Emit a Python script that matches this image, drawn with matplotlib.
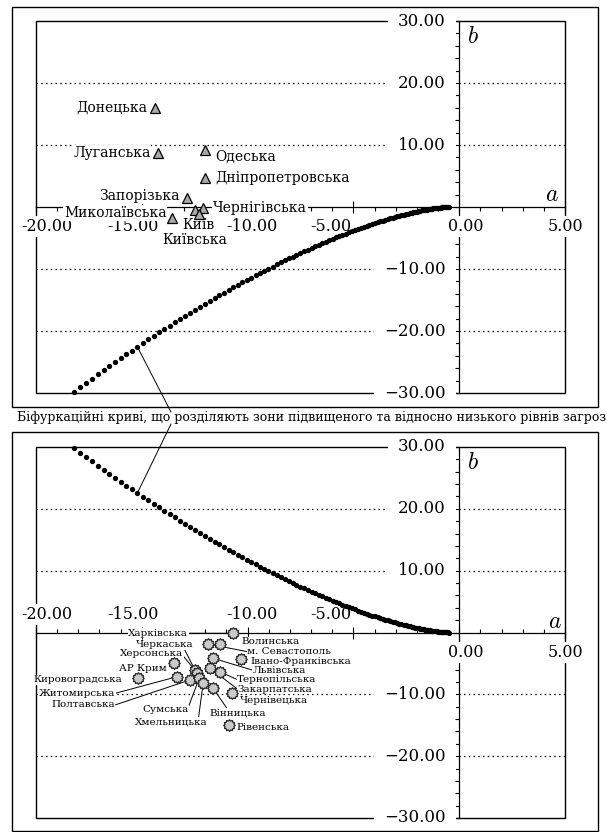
"""Two cusp-style bifurcation panels (a, b) with Ukrainian regions plotted on them."""

import numpy as np
import matplotlib
matplotlib.use("Agg")
import matplotlib.pyplot as plt
from matplotlib.patches import Rectangle, ConnectionPatch
from matplotlib.path import Path

plt.rcParams["font.family"] = ["DejaVu Serif"]
plt.rcParams["mathtext.fontset"] = "cm"

# bifurcation curve, lower branch (top panel); the bottom panel shows its mirror
CURVE_A = [
    -18.21, -17.93, -17.64, -17.36, -17.09, -16.81, -16.54, -16.27, -16.00, -15.73,
    -15.47, -15.21, -14.95, -14.69, -14.44, -14.19, -13.94, -13.69, -13.44, -13.20,
    -12.96, -12.72, -12.48, -12.25, -12.02, -11.79, -11.56, -11.34, -11.12, -10.90,
    -10.68, -10.46, -10.25, -10.04, -9.83, -9.62, -9.42, -9.22, -9.02, -8.82,
    -8.63, -8.44, -8.25, -8.06, -7.87, -7.69, -7.51, -7.33, -7.15, -6.98,
    -6.81, -6.64, -6.47, -6.31, -6.14, -5.98, -5.83, -5.67, -5.52, -5.37,
    -5.22, -5.07, -4.93, -4.79, -4.65, -4.51, -4.37, -4.24, -4.11, -3.98,
    -3.86, -3.74, -3.61, -3.50, -3.38, -3.27, -3.15, -3.04, -2.94, -2.83,
    -2.73, -2.63, -2.53, -2.44, -2.34, -2.25, -2.16, -2.08, -1.99, -1.91,
    -1.83, -1.75, -1.68, -1.61, -1.54, -1.47, -1.40, -1.34, -1.28, -1.22,
    -1.16, -1.11, -1.06, -1.01, -0.96, -0.92, -0.87, -0.83, -0.79, -0.76,
    -0.73, -0.68, -0.63, -0.58, -0.54, -0.50,
]
CURVE_B = [
    -29.79, -29.08, -28.37, -27.68, -27.00, -26.33, -25.67, -25.03, -24.39, -23.76,
    -23.15, -22.55, -21.95, -21.37, -20.80, -20.23, -19.68, -19.14, -18.61, -18.09,
    -17.58, -17.07, -16.58, -16.10, -15.63, -15.16, -14.71, -14.26, -13.82, -13.40,
    -12.98, -12.57, -12.17, -11.77, -11.39, -11.02, -10.65, -10.29, -9.94, -9.60,
    -9.26, -8.93, -8.62, -8.30, -8.00, -7.70, -7.41, -7.13, -6.86, -6.59,
    -6.33, -6.08, -5.83, -5.59, -5.36, -5.13, -4.91, -4.70, -4.49, -4.29,
    -4.10, -3.91, -3.72, -3.55, -3.38, -3.21, -3.05, -2.89, -2.74, -2.60,
    -2.46, -2.33, -2.20, -2.07, -1.95, -1.84, -1.73, -1.62, -1.52, -1.42,
    -1.33, -1.24, -1.16, -1.08, -1.00, -0.93, -0.86, -0.79, -0.73, -0.67,
    -0.61, -0.56, -0.51, -0.47, -0.42, -0.38, -0.34, -0.31, -0.27, -0.24,
    -0.22, -0.19, -0.17, -0.14, -0.13, -0.11, -0.09, -0.08, -0.06, -0.05,
    -0.04, -0.03, -0.02, -0.01, -0.01, 0.00,
]
LEADER_INDEX = 11  # curve dot the caption points to

# top panel regions (triangles)
TOP_NAMES = ["Донецька", "Луганська", "Одеська", "Дніпропетровська", "Запорізька",
             "Миколаївська", "Чернігівська", "Київ", "Київська"]
TOP_A = [-14.38, -14.22, -12.01, -12.01, -12.88, -13.59, -12.12, -12.49, -12.28]
TOP_B = [16.0, 8.7, 9.2, 4.6, 1.4, -1.7, -0.2, -0.5, -1.1]

# bottom panel regions (gear markers)
BOTTOM_NAMES = ["Харківська", "Волинська", "м. Севастополь", "Херсонська", "Черкаська",
                "Закарпатська", "Львівська", "Тернопільська", "Полтавська", "Сумська",
                "Хмельницька", "Вінницька", "Чернівецька", "Рівенська",
                "Івано-Франківська", "АР Крим", "Житомирська", "Кировоградська"]
BOTTOM_A = [-10.70, -11.31, -11.86, -12.50, -12.41, -11.77, -11.63, -11.31, -12.73, -12.29,
            -12.10, -11.63, -10.74, -10.87, -10.30, -13.48, -13.34, -15.17]
BOTTOM_B = [-0.13, -1.86, -1.86, -6.06, -6.60, -5.79, -4.17, -6.34, -7.68, -7.41,
            -8.22, -9.02, -9.83, -14.96, -4.33, -4.98, -7.15, -7.41]

X_TICKS = [-20, -15, -10, -5, 0, 5]
Y_TICKS = [-30, -20, -10, 10, 20, 30]
GRID_B = [-20, -10, 10, 20]

CAPTION = "Біфуркаційні криві, що розділяють зони підвищеного та відносно низького рівнів загроз"

# label layout: offset in points, alignment, leader relpos (None = no leader)
TOP_LAYOUT = {
    "Донецька": ((-5.8, 0), "right", None),
    "Луганська": ((-5.5, 0), "right", None),
    "Одеська": ((7.2, -4.8), "left", None),
    "Дніпропетровська": ((7.2, 0), "left", None),
    "Запорізька": ((-4.8, 1.7), "right", None),
    "Миколаївська": ((-3.6, 3.4), "right", None),
    "Чернігівська": ((7.4, 0), "left", None),
    "Київ": ((2.2, -10.8), "center", None),
    "Київська": ((-3.0, -18.6), "center", None),
}
BOTTOM_LAYOUT = {
    "Харківська": ((-32.2, 0), "right", (1, 0.5)),
    "Волинська": ((15.3, 1.7), "left", None),
    "м. Севастополь": ((28, -5.5), "left", (0, 0.5)),
    "Херсонська": ((-8.4, 11.5), "right", (1, 0.3)),
    "Черкаська": ((-2.5, 20.4), "right", (0.85, 0)),
    "Закарпатська": ((20, -15.2), "left", (0, 0.5)),
    "Львівська": ((28.7, -8.6), "left", (0, 0.5)),
    "Тернопільська": ((12.4, -5.6), "left", (0, 0.5)),
    "Полтавська": ((-53.9, -18), "right", (1, 0.5)),
    "Сумська": ((-7.8, -22.8), "right", (1, 0.8)),
    "Хмельницька": ((3.5, -27.6), "right", (0.87, 1)),
    "Вінницька": ((-2.3, -17.6), "left", (0.3, 1)),
    "Чернівецька": ((6, -5.5), "left", None),
    "Рівенська": ((5.3, -1.9), "left", None),
    "Івано-Франківська": ((6.5, -1.4), "left", None),
    "АР Крим": ((-5.3, -3.6), "right", None),
    "Житомирська": ((-44.6, -12), "right", (1, 0.5)),
    "Кировоградська": ((-11.8, -1.2), "right", None),
}
# x tick label nudges (points) as typeset in the original
X_LABEL_DX = [7.6, -6.1, 3.0, -16.5, 4.6, 0.0]

WHITE = dict(boxstyle="square,pad=0.05", fc="white", ec="none")


def gear_marker(teeth=12, inner=0.8):
    ang = np.linspace(0, 2 * np.pi, 2 * teeth, endpoint=False) + np.pi / 2
    rad = np.where(np.arange(2 * teeth) % 2 == 0, 1.0, inner)
    verts = np.column_stack([rad * np.cos(ang), rad * np.sin(ang)])
    verts = np.vstack([verts, verts[:1]])
    codes = [Path.MOVETO] + [Path.LINETO] * (len(verts) - 2) + [Path.CLOSEPOLY]
    return Path(verts, codes)


def setup_panel(ax, top):
    ax.set_xlim(-20, 5)
    ax.set_ylim(-30, 30)
    ax.spines["top"].set_visible(False)
    ax.spines["right"].set_visible(False)
    ax.spines["left"].set_position(("data", 0))
    ax.spines["bottom"].set_position(("data", 0))
    for side in ("left", "bottom"):
        ax.spines[side].set_linewidth(0.9)
    ax.add_patch(Rectangle((0, 0), 1, 1, transform=ax.transAxes, fill=False,
                           lw=1.0, zorder=1, clip_on=False))

    ax.set_xticks(X_TICKS)
    ax.set_xticks(np.arange(-20, 6, 1), minor=True)
    ax.set_yticks([-30, -20, -10, 0, 10, 20, 30])
    ax.set_yticks(np.arange(-30, 31, 2), minor=True)
    ax.tick_params(labelbottom=False, labelleft=False)
    ax.tick_params(axis="y", which="both", direction="out", length=3, width=0.8)
    ax.tick_params(axis="x", which="minor", direction="out" if top else "in",
                   length=3, width=0.8)
    ax.tick_params(axis="x", which="major", direction="inout", length=8, width=0.8)

    for v in GRID_B:
        ax.axhline(v, color="black", lw=0.9, ls=(0, (1.2, 2.6)), zorder=1)

    for v in Y_TICKS:
        txt = f"{abs(v):.2f}" if v > 0 else f"\u2212{abs(v):.2f}"
        ax.annotate(txt, xy=(0, v), xytext=(-9.6, 0), textcoords="offset points",
                    ha="right", va="center", fontsize=12, zorder=3,
                    bbox=dict(boxstyle="square,pad=0.6", fc="white", ec="none"))

    for v, dx in zip(X_TICKS, X_LABEL_DX):
        if top or v >= 0:
            dy = -14.3
        else:
            dy = 12.7
        ax.annotate(f"{v:.2f}", xy=(v, 0), xytext=(dx, dy), textcoords="offset points",
                    ha="center", va="center", fontsize=11.5, zorder=3,
                    bbox=dict(boxstyle="square,pad=0.12", fc="white", ec="none"))

    ax.text(0.65, 27.5, r"$b$", fontsize=17, ha="center", va="center")
    ax.text(4.4 if top else 4.5, 2.0 if top else 1.8, r"$a$", fontsize=17,
            ha="center", va="center")


def add_labels(ax, names, xs, ys, layout, fontsize):
    for name, x, y in zip(names, xs, ys):
        (dx, dy), ha, relpos = layout[name]
        arrow = None
        if relpos is not None:
            arrow = dict(arrowstyle="-", lw=0.7, color="black", shrinkA=0, shrinkB=0,
                         relpos=relpos)
        ax.annotate(name, xy=(x, y), xytext=(dx, dy), textcoords="offset points",
                    ha=ha, va="center", fontsize=fontsize, zorder=4, bbox=WHITE,
                    arrowprops=arrow)


fig = plt.figure(figsize=(6.07, 8.32), dpi=100)
W, H = 607, 832

ax_top = fig.add_axes([36 / W, 1 - 393 / H, 529 / W, 372 / H])
ax_bot = fig.add_axes([36 / W, 1 - 818 / H, 529 / W, 371 / H])

setup_panel(ax_top, top=True)
setup_panel(ax_bot, top=False)

curve_b_mirror = [-b for b in CURVE_B]
ax_top.plot(CURVE_A, CURVE_B, "o", color="black", ms=3.8, mew=0, zorder=5, clip_on=False)
ax_bot.plot(CURVE_A, curve_b_mirror, "o", color="black", ms=3.8, mew=0, zorder=5, clip_on=False)

ax_top.plot(TOP_A, TOP_B, "^", ms=7.5, mfc="#a9a9a9", mec="black", mew=0.9,
            ls="none", zorder=6)
add_labels(ax_top, TOP_NAMES, TOP_A, TOP_B, TOP_LAYOUT, 10)

ax_bot.plot(BOTTOM_A, BOTTOM_B, marker=gear_marker(), ms=8.3, mfc="#c9c9c9", mec="#222222",
            mew=0.9, ls="none", zorder=6)
add_labels(ax_bot, BOTTOM_NAMES, BOTTOM_A, BOTTOM_B, BOTTOM_LAYOUT, 7.5)

# outer frames around each panel
fig.add_artist(Rectangle((12 / W, 1 - 407 / H), 586 / W, 400 / H, transform=fig.transFigure,
                         fill=False, lw=1.0, color="black"))
fig.add_artist(Rectangle((12 / W, 1 - 831 / H), 586 / W, 399 / H, transform=fig.transFigure,
                         fill=False, lw=1.0, color="black"))

fig.text(17 / W, 1 - 418 / H, CAPTION, ha="left", va="center", fontsize=9)

# leader lines from the caption to both curves
p_top = (CURVE_A[LEADER_INDEX], CURVE_B[LEADER_INDEX])
p_bot = (CURVE_A[LEADER_INDEX], curve_b_mirror[LEADER_INDEX])
fig.add_artist(ConnectionPatch(xyA=p_top, coordsA=ax_top.transData,
                               xyB=(171 / W, 1 - 412 / H), coordsB=fig.transFigure, lw=0.7))
fig.add_artist(ConnectionPatch(xyA=p_bot, coordsA=ax_bot.transData,
                               xyB=(171 / W, 1 - 424 / H), coordsB=fig.transFigure, lw=0.7))

fig.savefig("out.png", dpi=100)
